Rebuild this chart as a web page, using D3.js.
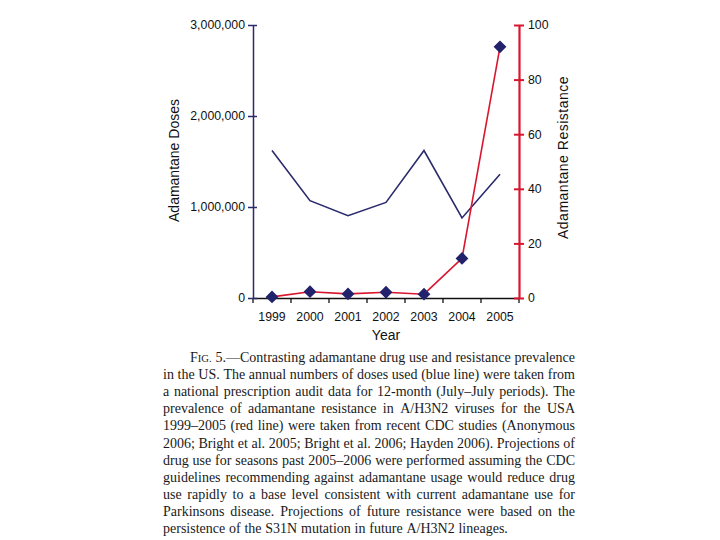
<!DOCTYPE html>
<html><head><meta charset="utf-8">
<script src="https://cdn.jsdelivr.net/npm/d3@7"></script>
<style>body{margin:0;background:#fff}svg{display:block}</style>
</head><body>
<svg id="c" width="720" height="540"></svg>
<script>
const years = ["1999","2000","2001","2002","2003","2004","2005"];
const doses = [1620000, 1070000, 905000, 1050000, 1620000, 880000, 1360000];
const resistance = [0.4, 2.3, 1.5, 2.1, 1.4, 14.5, 92];
const doseTicks = [0, 1000000, 2000000, 3000000];
const resTicks = [0, 20, 40, 60, 80, 100];
const captionLines = [
  "FIG. 5.—Contrasting adamantane drug use and resistance prevalence",
  "in the US. The annual numbers of doses used (blue line) were taken from",
  "a national prescription audit data for 12-month (July–July periods). The",
  "prevalence of adamantane resistance in A/H3N2 viruses for the USA",
  "1999–2005 (red line) were taken from recent CDC studies (Anonymous",
  "2006; Bright et al. 2005; Bright et al. 2006; Hayden 2006). Projections of",
  "drug use for seasons past 2005–2006 were performed assuming the CDC",
  "guidelines recommending against adamantane usage would reduce drug",
  "use rapidly to a base level consistent with current adamantane use for",
  "Parkinsons disease. Projections of future resistance were based on the",
  "persistence of the S31N mutation in future A/H3N2 lineages."
];

const svg = d3.select("#c");
const L = 253, R = 519, T = 25, B = 298;
const navy = "#2a2a6c", red = "#d8162e";
const sans = "Liberation Sans, Arial, sans-serif";

const x = d3.scaleBand().domain(years).range([L, R]).padding(0);
const yL = d3.scaleLinear().domain([0, 3000000]).range([B, T]);
const yR = d3.scaleLinear().domain([0, 100]).range([B, T]);

// x axis
const gx = svg.append("g").attr("transform", `translate(0,${B})`)
  .call(d3.axisBottom(x).tickSize(0).tickPadding(14));
gx.select(".domain").attr("stroke", "#111").attr("stroke-width", 1.3);
gx.selectAll("text").attr("font-family", sans).attr("font-size", 12.3).attr("fill", "#111");
const bounds = years.map(d => x(d)).concat([R]);
gx.selectAll("line.bt").data(bounds).enter().append("line").attr("class","bt")
  .attr("x1", d => d).attr("x2", d => d).attr("y1", 0).attr("y2", 5)
  .attr("stroke", "#111").attr("stroke-width", 1.3);

// left axis
const gl = svg.append("g").attr("transform", `translate(${L},0)`)
  .call(d3.axisLeft(yL).tickValues(doseTicks).tickFormat(d3.format(",")).tickSizeOuter(0).tickSizeInner(0).tickPadding(8));
gl.select(".domain").attr("stroke", navy).attr("stroke-width", 1.5);
gl.selectAll(".tick line").attr("x1", -5).attr("x2", 4).attr("stroke", navy).attr("stroke-width", 1.5);
gl.selectAll("text").attr("font-family", sans).attr("font-size", 12.3).attr("fill", "#111");

// right axis
const gr = svg.append("g").attr("transform", `translate(${R},0)`)
  .call(d3.axisRight(yR).tickValues(resTicks).tickSizeOuter(0).tickSizeInner(0).tickPadding(9));
gr.select(".domain").attr("stroke", red).attr("stroke-width", 2.2);
gr.selectAll(".tick line").attr("x1", -5).attr("x2", 5).attr("stroke", red).attr("stroke-width", 2);
gr.selectAll("text").attr("font-family", sans).attr("font-size", 12.3).attr("fill", "#111");

// axis titles
svg.append("text").attr("transform", `translate(179,${(T+B)/2 - 1}) rotate(-90)`)
  .attr("text-anchor","middle").attr("font-family", sans).attr("font-size", 14)
  .attr("fill","#111").text("Adamantane Doses");
svg.append("text").attr("transform", `translate(568,${(T+B)/2 - 4}) rotate(-90)`)
  .attr("text-anchor","middle").attr("font-family", sans).attr("font-size", 14)
  .attr("letter-spacing", 0.5).attr("fill","#111").text("Adamantane Resistance");
svg.append("text").attr("x", (L+R)/2).attr("y", 340).attr("text-anchor","middle")
  .attr("font-family", sans).attr("font-size", 14).attr("fill","#111").text("Year");

const cx = d => x(d) + x.bandwidth()/2;

svg.append("path").datum(years.map((d,i)=>[cx(d), yL(doses[i])]))
  .attr("d", d3.line()).attr("fill","none").attr("stroke", navy).attr("stroke-width", 1.6);

svg.append("path").datum(years.map((d,i)=>[cx(d), yR(resistance[i])]))
  .attr("d", d3.line()).attr("fill","none").attr("stroke", red).attr("stroke-width", 1.6);

svg.selectAll("path.dm").data(years).enter().append("path").attr("class","dm")
  .attr("d", d3.symbol().type(d3.symbolSquare).size(82))
  .attr("transform", (d,i) => `translate(${cx(d)},${yR(resistance[i])}) rotate(45)`)
  .attr("fill", "#22226c");

// caption, justified
const serif = "Liberation Serif, Times New Roman, serif";
const capL = 163, capR = 575, base0 = 362, lh = 17.1, fs = 14;
captionLines.forEach((line, li) => {
  const words = line.split(" ");
  const y = base0 + li * lh;
  const left = li === 0 ? capL + 27 : capL;
  const g = svg.append("g");
  const nodes = words.map((w, wi) => {
    const t = g.append("text").attr("y", y).attr("font-family", serif)
      .attr("font-size", fs).attr("fill", "#1a1a1a");
    if (li === 0 && wi === 0) {
      t.append("tspan").text("F");
      t.append("tspan").attr("font-size", fs*0.76).text("IG.");
    } else {
      t.text(w);
    }
    return t;
  });
  const widths = nodes.map(n => n.node().getComputedTextLength());
  const total = d3.sum(widths);
  const last = li === captionLines.length - 1;
  const gap = last ? fs*0.27 : (capR - left - total) / (words.length - 1);
  let xx = left;
  nodes.forEach((n, i) => { n.attr("x", xx); xx += widths[i] + gap; });
});
</script>
</body></html>
